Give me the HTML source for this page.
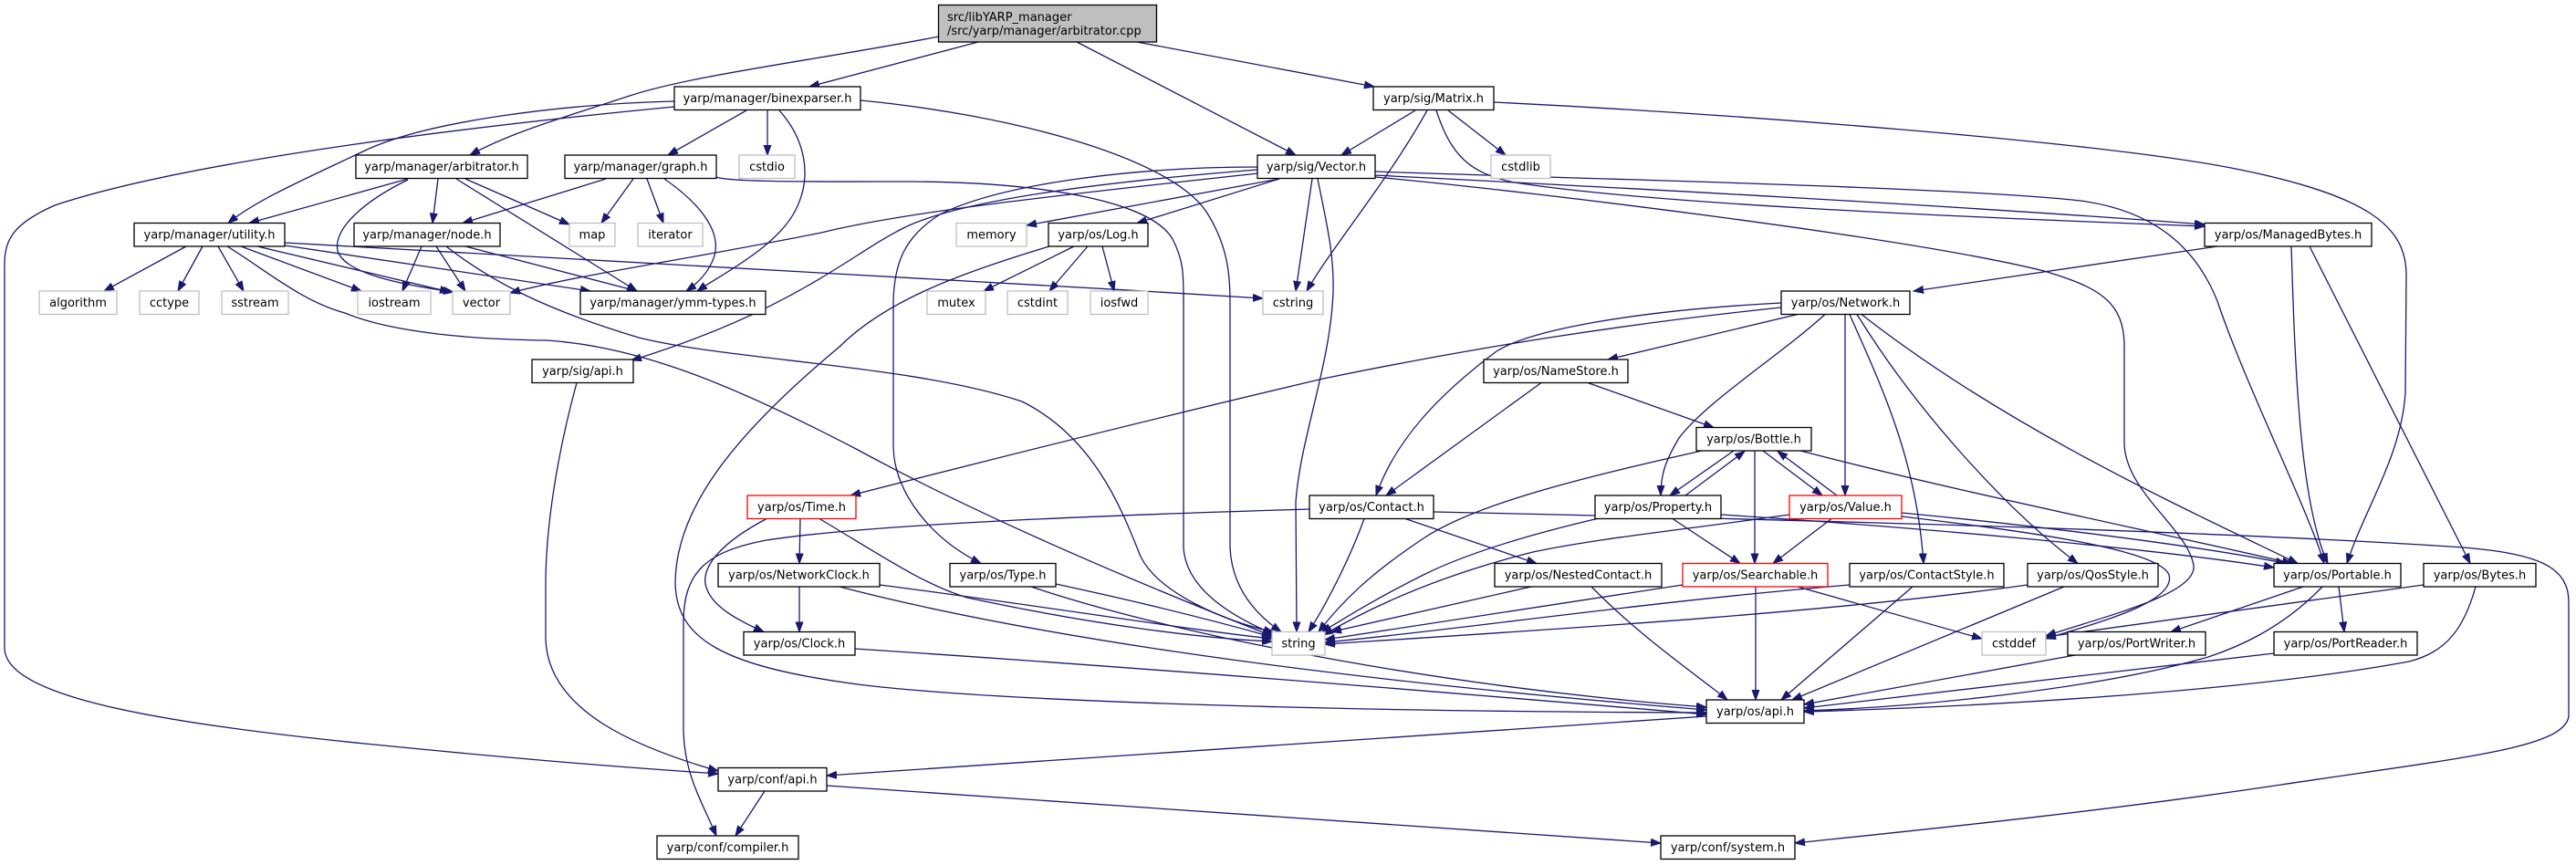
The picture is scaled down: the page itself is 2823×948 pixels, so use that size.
<!DOCTYPE html>
<html><head><meta charset="utf-8"><style>
html,body{margin:0;padding:0;background:#fff}
svg{display:block}
.e{fill:none;stroke:#191970;stroke-width:1.3;marker-end:url(#a)}
.n{fill:#fff;stroke:#000;stroke-width:1.3}
.g{fill:#fff;stroke:#bfbfbf;stroke-width:1.3}
.r{fill:#fff;stroke:#ff0000;stroke-width:1.3}
text{font-family:"DejaVu Sans","Liberation Sans",sans-serif;font-size:13px;fill:#000}
</style></head><body>
<svg width="2823" height="948" viewBox="0 0 2823 948" xmlns="http://www.w3.org/2000/svg">
<defs><marker id="a" markerWidth="12" markerHeight="10" refX="11" refY="4.5" orient="auto" markerUnits="userSpaceOnUse"><path d="M0,0.5 L11,4.5 L0,8.5 z" fill="#191970" stroke="#191970" stroke-width="1"/></marker></defs>
<g>
<path class="e" d="M1029,40 C900,65 760,82 690,105 C620,128 560,145 515,170"/>
<path class="e" d="M1072,46 L887,95"/>
<path class="e" d="M1180,46 L1420,170"/>
<path class="e" d="M1246,46 L1506,95"/>
<path class="e" d="M739,111 C620,114 470,132 400,165 C330,198 280,220 250,244.5"/>
<path class="e" d="M739,117 C500,140 200,178 60,225 C15,245 5,262 5,290 L5,710 C5,760 150,790 400,815 C600,835 700,842 787,848"/>
<path class="e" d="M818,121 L732,170"/>
<path class="e" d="M841,121 L841,170"/>
<path class="e" d="M854,121 C880,150 892,190 872,230 C852,270 792,300 764,319"/>
<path class="e" d="M943,110 C1100,125 1280,170 1322,232 C1345,268 1348,300 1348,330 L1348,600 C1350,648 1380,676 1404,692.5"/>
<path class="e" d="M664,196 L507,244.5"/>
<path class="e" d="M694,196 L659,244.5"/>
<path class="e" d="M709,196 L727,244.5"/>
<path class="e" d="M728,196 C770,225 790,255 783,280 C777,300 762,312 752,319"/>
<path class="e" d="M785,194 C800,200 900,199 1000,199 C1150,200 1262,222 1285,262 C1297,285 1297,300 1297,330 L1297,600 C1300,650 1360,680 1396,695"/>
<path class="e" d="M447,196 L273,244.5"/>
<path class="e" d="M480,196 L474,244.5"/>
<path class="e" d="M510,196 L624,246"/>
<path class="e" d="M500,196 L698,319"/>
<path class="e" d="M447,197 C400,220 365,250 370,275 C378,300 440,312 497,320"/>
<path class="e" d="M204,270 L114,319"/>
<path class="e" d="M222,270 L195,319"/>
<path class="e" d="M239,270 L267,319"/>
<path class="e" d="M264,270 L396,319"/>
<path class="e" d="M282,270 L493,320"/>
<path class="e" d="M312,269 L647,319"/>
<path class="e" d="M312,266 C600,283 1000,303 1384,327"/>
<path class="e" d="M249,270 C290,295 330,330 378,343 C430,365 520,372 600,373 C700,380 800,420 940,493 C1100,580 1300,660 1394,697"/>
<path class="e" d="M462,270 L441,319"/>
<path class="e" d="M478,270 L510,319"/>
<path class="e" d="M510,270 L698,319"/>
<path class="e" d="M489,270 C540,310 600,340 700,370 C800,395 1000,400 1120,440 C1200,480 1230,560 1250,610 C1270,650 1340,680 1396,693"/>
<path class="e" d="M1378,190 C1200,210 1000,230 900,255 C750,285 640,300 559,321"/>
<path class="e" d="M1402,196 L1125,247"/>
<path class="e" d="M1402,196 L1246,244.5"/>
<path class="e" d="M1438,196 L1420,319"/>
<path class="e" d="M1444,196 C1455,250 1462,280 1461,320 C1458,400 1425,480 1420,550 L1421,692.5"/>
<path class="e" d="M1378,186 C1200,200 1050,220 990,250 C930,280 870,340 692,395"/>
<path class="e" d="M1378,183 C1250,183 1100,200 1030,235 C990,260 980,290 979,330 L979,490 C980,540 1020,590 1075,617.5"/>
<path class="e" d="M1507,192 C1700,202 2100,222 2416,246"/>
<path class="e" d="M1574,121 C1590,170 1610,190 1660,200 C1800,222 2100,236 2416,248"/>
<path class="e" d="M1507,188 C1700,195 2150,205 2280,220 C2370,232 2410,280 2430,330 C2460,420 2530,560 2547,617.5"/>
<path class="e" d="M1507,194 C1700,212 2100,262 2240,297 C2300,315 2328,330 2328,380 L2328,487 C2330,540 2398,580 2404,620 C2408,652 2300,677 2242,697"/>
<path class="e" d="M2084,566 C2200,580 2365,600 2377,630 C2385,660 2300,682 2242,700"/>
<path class="e" d="M1551,121 L1470,170"/>
<path class="e" d="M1564,121 C1520,200 1460,270 1432,319"/>
<path class="e" d="M1587,121 L1650,170"/>
<path class="e" d="M1637,112 C1900,125 2300,155 2450,185 C2600,215 2636,250 2637,300 L2636,430 C2632,500 2590,560 2572,617.5"/>
<path class="e" d="M2430,270 L2097,319"/>
<path class="e" d="M2511,270 C2515,400 2520,550 2551,617.5"/>
<path class="e" d="M2531,270 L2707,617.5"/>
<path class="e" d="M1177,270 L1078,319"/>
<path class="e" d="M1192,270 L1150,319"/>
<path class="e" d="M1208,270 L1221,319"/>
<path class="e" d="M1150,270 C1050,300 970,330 920,380 C800,480 740,560 740,640 C742,700 790,730 940,750 C1100,770 1500,780 1870,781"/>
<path class="e" d="M632,419.5 C610,500 598,580 598,640 L598,700 C600,780 700,820 787,845"/>
<path class="e" d="M1952,337 C1780,355 1620,380 1450,415 C1280,455 1100,500 932,543"/>
<path class="e" d="M1952,332 C1800,340 1680,360 1640,385 C1580,430 1530,480 1508,543"/>
<path class="e" d="M1970,344.5 L1762,394"/>
<path class="e" d="M2000,344.5 C1950,390 1870,440 1840,480 C1825,505 1820,520 1820,543"/>
<path class="e" d="M2022,344.5 L2022,543"/>
<path class="e" d="M2027,344.5 C2060,420 2100,500 2108,617.5"/>
<path class="e" d="M2035,344.5 C2100,450 2200,560 2277,617.5"/>
<path class="e" d="M2040,344.5 C2200,470 2400,560 2518,617.5"/>
<path class="e" d="M1689,419.5 L1519,543"/>
<path class="e" d="M1740,419.5 L1878,468.5"/>
<path class="e" d="M1900,494 L1830,543"/>
<path class="e" d="M1847,543 L1912,494.5"/>
<path class="e" d="M1923,494 L1923,617.5"/>
<path class="e" d="M1932,494 L1997,543"/>
<path class="e" d="M2013,543 L1948,494.5"/>
<path class="e" d="M1833,568.5 L1907,617.5"/>
<path class="e" d="M2007,568.5 L1943,617.5"/>
<path class="e" d="M1973,494 C2150,540 2350,580 2512,617.5"/>
<path class="e" d="M1865,494 C1750,520 1620,550 1560,590 C1500,630 1470,660 1445,692.5"/>
<path class="e" d="M1750,568.5 C1680,585 1610,605 1560,630 C1500,660 1470,680 1448,693"/>
<path class="e" d="M1961,564 C1850,580 1750,590 1680,605 C1600,625 1520,655 1450,696"/>
<path class="e" d="M1886,564 C2100,578 2350,600 2492,622"/>
<path class="e" d="M2084,562 C2250,578 2420,600 2505,617.5"/>
<path class="e" d="M1571,561 C1900,568 2400,580 2700,600 C2780,607 2815,620 2815,660 L2815,785 C2810,820 2700,830 2500,860 C2300,890 2100,910 1967,924"/>
<path class="e" d="M1495,568.5 C1480,610 1455,660 1434,692.5"/>
<path class="e" d="M1540,568.5 L1684,617.5"/>
<path class="e" d="M1435,558 C1200,565 950,575 840,592 C770,605 750,630 749,680 L749,800 C750,850 770,880 785,916"/>
<path class="e" d="M877,568.5 L876,617.5"/>
<path class="e" d="M840,568.5 C790,595 770,620 773,640 C778,665 810,680 837,692.5"/>
<path class="e" d="M898,568.5 C960,605 1010,640 1060,655 C1200,685 1320,700 1394,703"/>
<path class="e" d="M964,641 C1150,665 1300,690 1394,700"/>
<path class="e" d="M920,643 C1100,690 1400,740 1870,778"/>
<path class="e" d="M876,643 L876,692.5"/>
<path class="e" d="M937,711 C1300,735 1600,760 1870,783"/>
<path class="e" d="M1157,640 C1250,660 1330,680 1394,698"/>
<path class="e" d="M1130,643 C1300,700 1600,755 1870,775"/>
<path class="e" d="M1678,643 L1459,692.5"/>
<path class="e" d="M1744,643 C1800,700 1860,740 1893,767"/>
<path class="e" d="M1844,641 L1452,701"/>
<path class="e" d="M1924,643 L1924,767"/>
<path class="e" d="M1970,643 L2172,700"/>
<path class="e" d="M2027,641 C1800,660 1600,690 1452,704"/>
<path class="e" d="M2096,643 L1952,767"/>
<path class="e" d="M2222,641 C2000,672 1700,690 1452,706"/>
<path class="e" d="M2262,643 L1964,767"/>
<path class="e" d="M2524,643 L2379,692.5"/>
<path class="e" d="M2563,643 L2569,692.5"/>
<path class="e" d="M2545,643 C2500,690 2450,710 2420,720 C2300,755 2100,775 1977,779"/>
<path class="e" d="M2656,641 L2242,698"/>
<path class="e" d="M2713,643 C2700,690 2680,715 2640,725 C2450,760 2150,775 1977,780"/>
<path class="e" d="M2274,718 L1977,772"/>
<path class="e" d="M2492,716 L1977,776"/>
<path class="e" d="M1870,785 L906,850"/>
<path class="e" d="M838,867 L806,916"/>
<path class="e" d="M906,861 L1820,924"/>
</g>
<g>
<rect x="1028.5" y="5.5" width="239" height="40.5" fill="#bfbfbf" stroke="#000" stroke-width="1.3"/>
<text x="1038" y="23">src/libYARP_manager</text>
<text x="1038" y="38">/src/yarp/manager/arbitrator.cpp</text>

<rect class="n" x="739" y="95" width="204" height="25.5"/><text x="841" y="112" text-anchor="middle">yarp/manager/binexparser.h</text>
<rect class="n" x="1505" y="95" width="132" height="25.5"/><text x="1571" y="112" text-anchor="middle">yarp/sig/Matrix.h</text>

<rect class="n" x="390" y="170" width="188" height="25.5"/><text x="484" y="187" text-anchor="middle">yarp/manager/arbitrator.h</text>
<rect class="n" x="619" y="170" width="166" height="25.5"/><text x="702" y="187" text-anchor="middle">yarp/manager/graph.h</text>
<rect class="g" x="810" y="170" width="61" height="25.5"/><text x="840.5" y="187" text-anchor="middle">cstdio</text>
<rect class="n" x="1378" y="170" width="129" height="25.5"/><text x="1442.5" y="187" text-anchor="middle">yarp/sig/Vector.h</text>
<rect class="g" x="1634" y="170" width="65" height="25.5"/><text x="1666.5" y="187" text-anchor="middle">cstdlib</text>

<rect class="n" x="147" y="244.5" width="165" height="25.5"/><text x="229.5" y="261.5" text-anchor="middle">yarp/manager/utility.h</text>
<rect class="n" x="388" y="244.5" width="160" height="25.5"/><text x="468" y="261.5" text-anchor="middle">yarp/manager/node.h</text>
<rect class="g" x="624" y="244.5" width="50" height="25.5"/><text x="649" y="261.5" text-anchor="middle">map</text>
<rect class="g" x="699" y="244.5" width="71" height="25.5"/><text x="734.5" y="261.5" text-anchor="middle">iterator</text>
<rect class="g" x="1048" y="244.5" width="77" height="25.5"/><text x="1086.5" y="261.5" text-anchor="middle">memory</text>
<rect class="n" x="1149" y="244.5" width="109" height="25.5"/><text x="1203.5" y="261.5" text-anchor="middle">yarp/os/Log.h</text>
<rect class="n" x="2416" y="244.5" width="183" height="25.5"/><text x="2507.5" y="261.5" text-anchor="middle">yarp/os/ManagedBytes.h</text>

<rect class="g" x="43" y="319" width="85" height="25.5"/><text x="85.5" y="336" text-anchor="middle">algorithm</text>
<rect class="g" x="153" y="319" width="65" height="25.5"/><text x="185.5" y="336" text-anchor="middle">cctype</text>
<rect class="g" x="243" y="319" width="73" height="25.5"/><text x="279.5" y="336" text-anchor="middle">sstream</text>
<rect class="g" x="392" y="319" width="80" height="25.5"/><text x="432" y="336" text-anchor="middle">iostream</text>
<rect class="g" x="496" y="319" width="63" height="25.5"/><text x="527.5" y="336" text-anchor="middle">vector</text>
<rect class="n" x="636" y="319" width="203" height="25.5"/><text x="737.5" y="336" text-anchor="middle">yarp/manager/ymm-types.h</text>
<rect class="g" x="1016" y="319" width="64" height="25.5"/><text x="1048" y="336" text-anchor="middle">mutex</text>
<rect class="g" x="1104" y="319" width="66" height="25.5"/><text x="1137" y="336" text-anchor="middle">cstdint</text>
<rect class="g" x="1195" y="319" width="63" height="25.5"/><text x="1226.5" y="336" text-anchor="middle">iosfwd</text>
<rect class="g" x="1384" y="319" width="66" height="25.5"/><text x="1417" y="336" text-anchor="middle">cstring</text>
<rect class="n" x="1952" y="319" width="141" height="25.5"/><text x="2022.5" y="336" text-anchor="middle">yarp/os/Network.h</text>

<rect class="n" x="583" y="394" width="111" height="25.5"/><text x="638.5" y="411" text-anchor="middle">yarp/sig/api.h</text>
<rect class="n" x="1626" y="394" width="158" height="25.5"/><text x="1705" y="411" text-anchor="middle">yarp/os/NameStore.h</text>

<rect class="n" x="1859" y="468.5" width="126" height="25.5"/><text x="1922" y="485.5" text-anchor="middle">yarp/os/Bottle.h</text>

<rect class="r" x="819" y="543" width="119" height="25.5"/><text x="878.5" y="560" text-anchor="middle">yarp/os/Time.h</text>
<rect class="n" x="1435" y="543" width="136" height="25.5"/><text x="1503" y="560" text-anchor="middle">yarp/os/Contact.h</text>
<rect class="n" x="1748" y="543" width="138" height="25.5"/><text x="1817" y="560" text-anchor="middle">yarp/os/Property.h</text>
<rect class="r" x="1961" y="543" width="123" height="25.5"/><text x="2022.5" y="560" text-anchor="middle">yarp/os/Value.h</text>

<rect class="n" x="787" y="617.5" width="177" height="25.5"/><text x="875.5" y="634.5" text-anchor="middle">yarp/os/NetworkClock.h</text>
<rect class="n" x="1041" y="617.5" width="116" height="25.5"/><text x="1099" y="634.5" text-anchor="middle">yarp/os/Type.h</text>
<rect class="n" x="1638" y="617.5" width="183" height="25.5"/><text x="1729.5" y="634.5" text-anchor="middle">yarp/os/NestedContact.h</text>
<rect class="r" x="1844" y="617.5" width="159" height="25.5"/><text x="1923.5" y="634.5" text-anchor="middle">yarp/os/Searchable.h</text>
<rect class="n" x="2027" y="617.5" width="169" height="25.5"/><text x="2111.5" y="634.5" text-anchor="middle">yarp/os/ContactStyle.h</text>
<rect class="n" x="2222" y="617.5" width="143" height="25.5"/><text x="2293.5" y="634.5" text-anchor="middle">yarp/os/QosStyle.h</text>
<rect class="n" x="2492" y="617.5" width="139" height="25.5"/><text x="2561.5" y="634.5" text-anchor="middle">yarp/os/Portable.h</text>
<rect class="n" x="2656" y="617.5" width="123" height="25.5"/><text x="2717.5" y="634.5" text-anchor="middle">yarp/os/Bytes.h</text>

<rect class="n" x="815" y="692.5" width="122" height="25.5"/><text x="876" y="709.5" text-anchor="middle">yarp/os/Clock.h</text>
<rect class="g" x="1394" y="692.5" width="58" height="25.5"/><text x="1423" y="709.5" text-anchor="middle">string</text>
<rect class="g" x="2172" y="692.5" width="70" height="25.5"/><text x="2207" y="709.5" text-anchor="middle">cstddef</text>
<rect class="n" x="2266" y="692.5" width="151" height="25.5"/><text x="2341.5" y="709.5" text-anchor="middle">yarp/os/PortWriter.h</text>
<rect class="n" x="2492" y="692.5" width="157" height="25.5"/><text x="2570.5" y="709.5" text-anchor="middle">yarp/os/PortReader.h</text>

<rect class="n" x="1870" y="767" width="107" height="25.5"/><text x="1923.5" y="784" text-anchor="middle">yarp/os/api.h</text>

<rect class="n" x="787" y="841.5" width="119" height="25.5"/><text x="846.5" y="858.5" text-anchor="middle">yarp/conf/api.h</text>

<rect class="n" x="720" y="916" width="155" height="25.5"/><text x="797.5" y="933" text-anchor="middle">yarp/conf/compiler.h</text>
<rect class="n" x="1820" y="916" width="147" height="25.5"/><text x="1893.5" y="933" text-anchor="middle">yarp/conf/system.h</text>
</g>
</svg>
</body></html>
